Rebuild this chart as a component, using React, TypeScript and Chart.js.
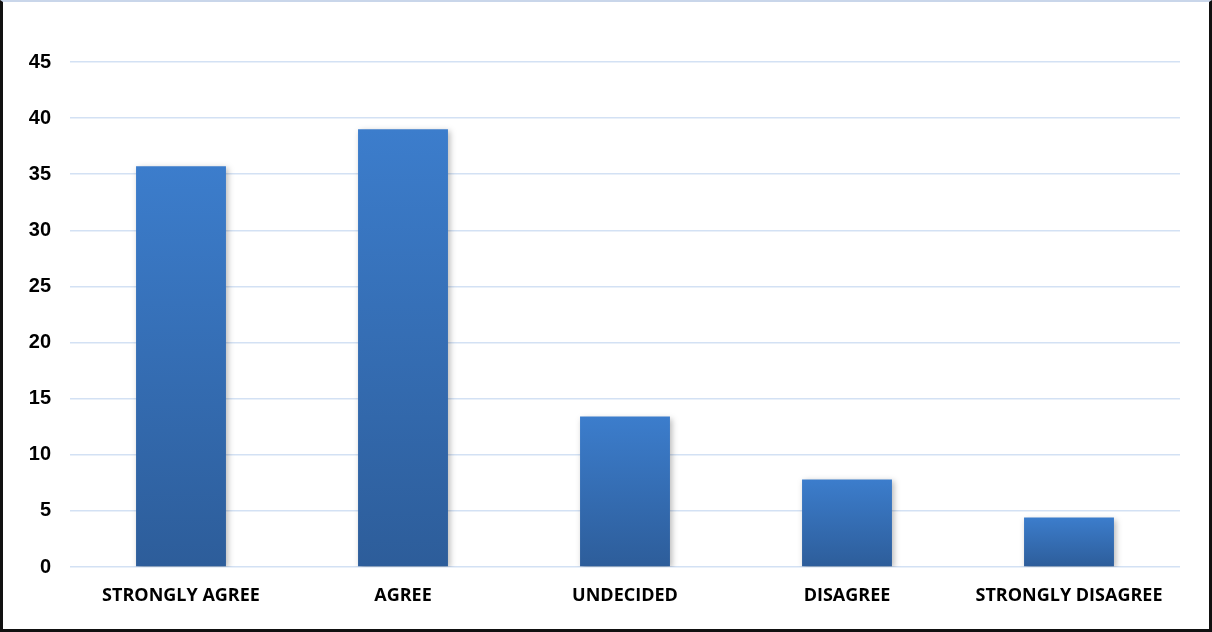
import React, { useEffect, useRef } from "react";
import { Chart, registerables } from "chart.js";

Chart.register(...registerables);

const categories = ["STRONGLY AGREE", "AGREE", "UNDECIDED", "DISAGREE", "STRONGLY DISAGREE"];
const values = [35.7, 39, 13.4, 7.8, 4.4];
const yTicks = [0, 5, 10, 15, 20, 25, 30, 35, 40, 45];

const shadowPlugin = {
  id: "barShadow",
  beforeDatasetsDraw(chart: any) {
    const ctx = chart.ctx;
    ctx.save();
    ctx.shadowColor = "rgba(0,0,0,0.28)";
    ctx.shadowBlur = 6;
    ctx.shadowOffsetX = 2;
    ctx.shadowOffsetY = 2;
  },
  afterDatasetsDraw(chart: any) {
    chart.ctx.restore();
  },
};

export default function App() {
  const ref = useRef<HTMLCanvasElement | null>(null);

  useEffect(() => {
    if (!ref.current) return;
    const chart = new Chart(ref.current, {
      type: "bar",
      data: {
        labels: categories,
        datasets: [
          {
            data: values,
            backgroundColor: (c: any) => {
              const chart = c.chart;
              const ys = chart.scales && chart.scales.y;
              if (!ys || c.parsed === undefined || !chart.chartArea) return "#3A76C0";
              const top = ys.getPixelForValue(c.parsed.y);
              const bottom = ys.getPixelForValue(0);
              if (!isFinite(top) || !isFinite(bottom) || top === bottom) return "#3A76C0";
              const g = chart.ctx.createLinearGradient(0, top, 0, bottom);
              g.addColorStop(0, "#3C7DCC");
              g.addColorStop(1, "#2D5D9A");
              return g;
            },
            borderWidth: 0,
            barPercentage: 0.405,
            categoryPercentage: 1,
          },
        ],
      },
      options: {
        animation: false,
        responsive: false,
        maintainAspectRatio: false,
        layout: { padding: { top: 62, right: 32, left: 0, bottom: 0 } },
        plugins: { legend: { display: false }, tooltip: { enabled: false } },
        scales: {
          x: {
            grid: { display: false, drawTicks: false },
            border: { display: false },
            ticks: {
              color: "#000",
              padding: 18,
              maxRotation: 0,
              autoSkip: false,
              font: { family: "'Open Sans', sans-serif", weight: "bold", size: 18 },
            },
            afterFit: (s: any) => {
              s.height = 65;
            },
          },
          y: {
            min: 0,
            max: 45,
            afterBuildTicks: (s: any) => {
              s.ticks = yTicks.map((v) => ({ value: v }));
            },
            grid: { color: "#D3E1F4", lineWidth: 1.5, drawTicks: false },
            border: { display: false },
            ticks: {
              color: "#000",
              padding: 19,
              font: { family: "'Liberation Sans', Arial, sans-serif", weight: "bold", size: 20 },
            },
            afterFit: (s: any) => {
              s.width = 70;
            },
          },
        },
      },
      plugins: [shadowPlugin],
    });
    return () => chart.destroy();
  }, []);

  return (
    <div style={{ position: "fixed", left: 0, top: 0, width: 1212, height: 632, background: "#fff" }}>
      <canvas ref={ref} width={1212} height={632} style={{ position: "absolute", left: 0, top: 0, width: 1212, height: 632 }} />
      <div
        style={{
          position: "absolute",
          left: 0,
          top: 0,
          width: 1212,
          height: 632,
          boxSizing: "border-box",
          borderTop: "2px solid #C9D6EA",
          borderLeft: "3px solid #111",
          borderRight: "3px solid #111",
          borderBottom: "3px solid #111",
          pointerEvents: "none",
        }}
      />
    </div>
  );
}
